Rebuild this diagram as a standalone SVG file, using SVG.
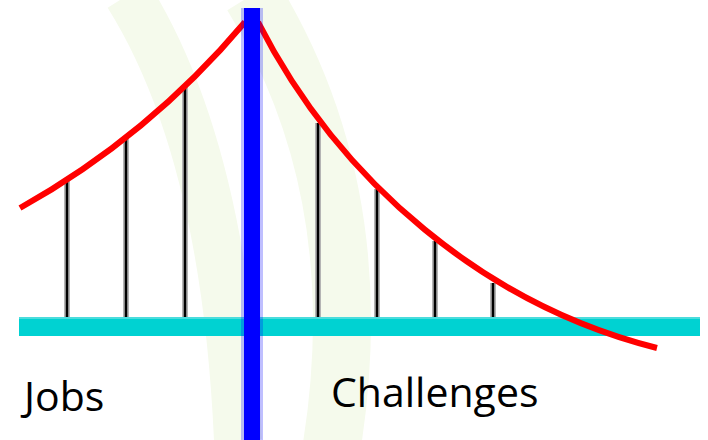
<svg xmlns="http://www.w3.org/2000/svg" width="708" height="440" viewBox="0 0 708 440">
  <style>
    .wm { fill: none; stroke: #f5faec; }
    .cable { fill: none; stroke: #ff0000; stroke-width: 6; stroke-linecap: butt; }
    .hang-shade { stroke: #b4b4b4; stroke-width: 6; }
    .hang { stroke: #000000; stroke-width: 2.5; }
    .label { font-family: "Open Sans", "Liberation Sans", sans-serif; font-size: 41px; fill: #000000; }
  </style>
  <rect width="708" height="440" fill="#ffffff"/>
  <g id="watermark">
    <path class="wm" d="M 128,-5 Q 225,150 238,440" stroke-width="48"/>
    <path class="wm" d="M 252,-5 Q 372,190 332,445" stroke-width="58"/>
  </g>
  <g id="hangers">
    <g id="hanger-l1"><line class="hang-shade" x1="67" y1="180" x2="67" y2="318"/><line class="hang" x1="67" y1="180" x2="67" y2="318"/></g>
    <g id="hanger-l2"><line class="hang-shade" x1="126" y1="138" x2="126" y2="318"/><line class="hang" x1="126" y1="138" x2="126" y2="318"/></g>
    <g id="hanger-l3"><line class="hang-shade" x1="185" y1="86" x2="185" y2="318"/><line class="hang" x1="185" y1="86" x2="185" y2="318"/></g>
    <g id="hanger-r1"><line class="hang-shade" x1="318" y1="123" x2="318" y2="318"/><line class="hang" x1="318" y1="123" x2="318" y2="318"/></g>
    <g id="hanger-r2"><line class="hang-shade" x1="377" y1="189" x2="377" y2="318"/><line class="hang" x1="377" y1="189" x2="377" y2="318"/></g>
    <g id="hanger-r3"><line class="hang-shade" x1="435" y1="241" x2="435" y2="318"/><line class="hang" x1="435" y1="241" x2="435" y2="318"/></g>
    <g id="hanger-r4"><line class="hang-shade" x1="493" y1="283" x2="493" y2="318"/><line class="hang" x1="493" y1="283" x2="493" y2="318"/></g>
  </g>
  <g id="deck">
    <rect x="19" y="317" width="681" height="19" fill="#00d2d2"/>
    <rect x="19" y="317" width="681" height="2" fill="#4cdcdc"/>
  </g>
  <g id="connectors">
    <path id="cable-left" class="cable" d="M 20,208 Q 149,136 245,22"/>
    <path id="cable-right" class="cable" d="M 258,22 C 340,183 487,305.5 657,348"/>
  </g>
  <g id="tower">
    <rect x="241" y="8" width="22" height="432" fill="#0000ff" fill-opacity="0.25"/>
    <rect x="244" y="8" width="16" height="432" fill="#0000ff"/>
  </g>
  <g id="label-jobs"><text class="label" x="24" y="411">Jobs</text></g>
  <g id="label-challenges"><text class="label" x="331" y="407">Challenges</text></g>
</svg>
